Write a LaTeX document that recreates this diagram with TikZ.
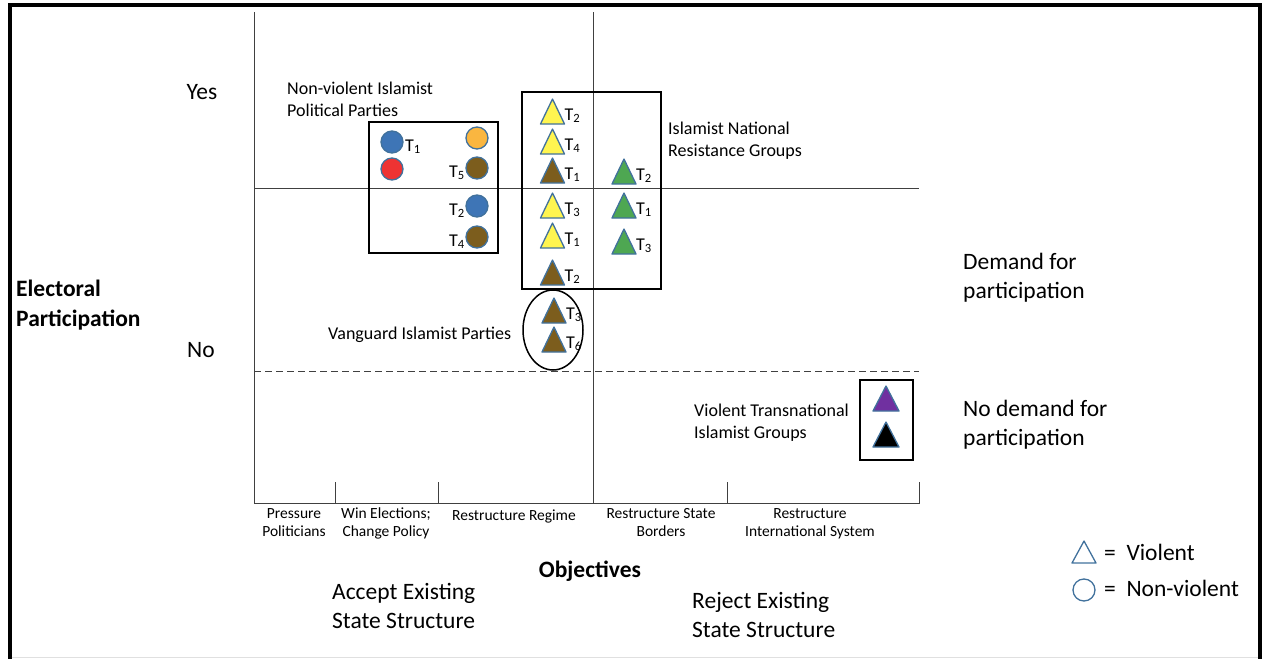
\documentclass[tikz,border=0pt]{standalone}
\usepackage{fontspec}
\setmainfont{Carlito}
\definecolor{blueC}{RGB}{62,117,182}
\definecolor{redC}{RGB}{238,51,51}
\definecolor{orangeC}{RGB}{250,182,64}
\definecolor{brownC}{RGB}{124,93,29}
\definecolor{yellowC}{RGB}{255,245,80}
\definecolor{greenC}{RGB}{78,167,82}
\definecolor{purpleC}{RGB}{112,48,160}
\definecolor{edgeC}{RGB}{65,113,156}
\tikzset{
  axis/.style={line width=1pt, draw=black!75},
  grp/.style={draw=black, line width=1.5pt},
  markedge/.style={draw=edgeC, line width=1.3pt, line join=round},
  big/.style={font=\fontsize{23.5}{29}\selectfont},
  mid/.style={font=\fontsize{18}{21.5}\selectfont},
  small/.style={font=\fontsize{15.5}{17.5}\selectfont},
  tlabel/.style={mid, inner sep=0pt},
}
% violent group: apex x, apex y, fill, label
\newcommand{\vtri}[4]{%
  \filldraw[markedge, fill=#3] (#1,#2) -- ++(-12,25) -- ++(24,0) -- cycle;
  \node[tlabel, anchor=base west] (t#1-#2) at ({#1+12},{#2+21}) {T\textsubscript{#4}};
}
% non-violent group: centre x, centre y, fill
\newcommand{\ncirc}[3]{%
  \filldraw[markedge, fill=#3] (#1,#2) circle[radius=11];
}
\begin{document}
\begin{tikzpicture}[x=1pt,y=-1pt]
        \useasboundingbox (0,0) rectangle (1262,659);
        \draw[line width=4pt, line join=miter] (9.5,659) -- (9.5,4.7) -- (1260,4.7) -- (1260,659);
        \draw[black!12] (11.5,657.5) -- (1258,657.5);
        % axes and quadrants
        \draw[axis] (254,12) -- (254,503) -- (919,503) -- (919,482);
        \foreach \x in {335,438,727}
          \draw[axis] (\x,503) -- (\x,482);
        \draw[axis] (593,12) -- (593,503);
        \draw[axis] (254,188) -- (919,188);
        \draw[axis, dash pattern=on 7pt off 4pt] (254,371) -- (919,371);
        % group frames
        \draw[grp] (369,122) rectangle (498,253);
        \draw[grp] (522,92) rectangle (661,289);
        \draw[grp] (553,330) ellipse[x radius=30, y radius=40];
        \draw[grp] (860,380) rectangle (913,460);
        % non-violent parties
        \ncirc{392}{142}{blueC}
        \ncirc{392}{169}{redC}
        \ncirc{477}{138}{orangeC}
        \ncirc{477}{168}{brownC}
        \ncirc{477}{206}{blueC}
        \ncirc{477}{237}{brownC}
        \node[tlabel, anchor=base west] (c1) at (405,151) {T\textsubscript{1}};
        \node[tlabel, anchor=base east] (c5) at (465,177) {T\textsubscript{5}};
        \node[tlabel, anchor=base east] (c2) at (465,215) {T\textsubscript{2}};
        \node[tlabel, anchor=base east] (c4) at (465,246) {T\textsubscript{4}};
        % violent groups
        \vtri{552.5}{99}{yellowC}{2}
        \vtri{552.5}{129}{yellowC}{4}
        \vtri{552.5}{158}{brownC}{1}
        \vtri{552.5}{193}{yellowC}{3}
        \vtri{552.5}{223}{yellowC}{1}
        \vtri{552.5}{260}{brownC}{2}
        \vtri{624}{159}{greenC}{2}
        \vtri{624}{193}{greenC}{1}
        \vtri{624}{229}{greenC}{3}
        \vtri{554}{298}{brownC}{3}
        \vtri{554}{327}{brownC}{6}
        \filldraw[markedge, fill=purpleC] (886,386) -- ++(-13,25) -- ++(26,0) -- cycle;
        \filldraw[markedge, fill=black] (886,422) -- ++(-13,25) -- ++(26,0) -- cycle;
        % group names (base = last line)
        \node[mid, align=left, anchor=base west, inner sep=0pt] (nvp) at (287,116) {Non-violent Islamist\\Political Parties};
        \node[mid, align=left, anchor=base west, inner sep=0pt] (inr) at (668,156) {Islamist National\\Resistance Groups};
        \node[mid, anchor=base west, inner sep=0pt] (vip) at (328,339) {Vanguard Islamist Parties};
        \node[mid, align=left, anchor=base west, inner sep=0pt] (vtg) at (694,438) {Violent Transnational\\Islamist Groups};
        % vertical axis
        \node[big] (yes) at (202,92) {Yes};
        \node[big] (no) at (201,350) {No};
        \node[font=\fontsize{23.5}{30}\selectfont\bfseries, align=left, anchor=base west, inner sep=0pt] (ep) at (16,326) {Electoral\\Participation};
        \node[big, align=left, anchor=base west, inner sep=0pt] (dem) at (963,298) {Demand for\\participation};
        \node[big, align=left, anchor=base west, inner sep=0pt] (nodem) at (963,445) {No demand for\\participation};
        % horizontal axis
        \node[small, align=center, anchor=base, inner sep=0pt] (o1) at (294,536) {Pressure\\Politicians};
        \node[small, align=center, anchor=base, inner sep=0pt] (o2) at (386,536) {Win Elections;\\Change Policy};
        \node[small, anchor=base, inner sep=0pt] (o3) at (514,520) {Restructure Regime};
        \node[small, align=center, anchor=base, inner sep=0pt] (o4) at (661,536) {Restructure State\\Borders};
        \node[small, align=center, anchor=base, inner sep=0pt] (o5) at (810,536) {Restructure\\International System};
        \node[font=\fontsize{23.5}{29}\selectfont\bfseries, anchor=base, inner sep=0pt] (obj) at (590,577) {Objectives};
        \node[big, align=left, anchor=base west, inner sep=0pt] (acc) at (332,628) {Accept Existing\\State Structure};
        \node[big, align=left, anchor=base west, inner sep=0pt] (rej) at (692,637) {Reject Existing\\State Structure};
        % legend
        \draw[markedge] (1084,541) -- (1072,563) -- (1096,563) -- cycle;
        \draw[markedge] (1084,590) circle[radius=11];
        \node[big, anchor=base west, inner sep=0pt] (lv) at (1104,560) {=\ \ Violent};
        \node[big, anchor=base west, inner sep=0pt] (ln) at (1104,596) {=\ \ Non-violent};
      \end{tikzpicture}
\end{document}
